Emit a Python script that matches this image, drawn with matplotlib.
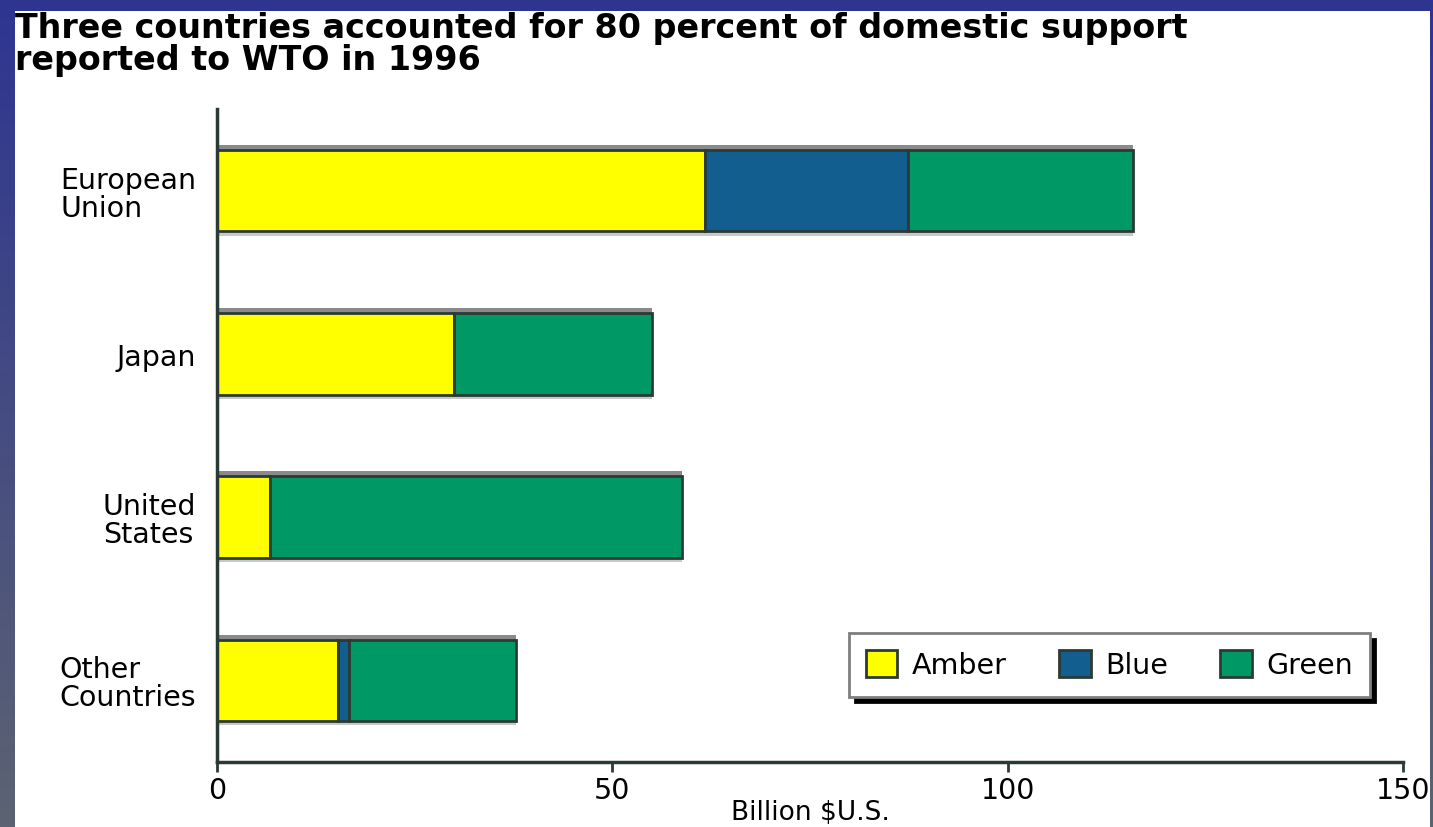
import numpy as np
import matplotlib
matplotlib.use("Agg")
import matplotlib.pyplot as plt
from matplotlib.patches import Rectangle, Patch

# Domestic support reported to WTO, 1996 (billion $U.S.)
regions = ["European\nUnion", "Japan", "United\nStates", "Other\nCountries"]
amber = [61.7, 30.0, 6.7, 15.3]
blue = [25.7, 0.0, 0.0, 1.4]
green = [28.4, 25.0, 52.1, 21.1]
series_names = ["Amber", "Blue", "Green"]
x_ticks = [0, 50, 100, 150]

colors = ["#ffff00", "#115e8f", "#009864"]
edge = "#2b3a35"
fs = 20.5

W, H = 1433, 828
fig = plt.figure(figsize=(W / 100, H / 100), dpi=100)

# slide background: blue frame fading to grey on the left side
bg = fig.add_axes([0, 0, 1, 1], zorder=-10)
bg.set_axis_off()
top_c = np.array([0x2e, 0x35, 0x91]) / 255
bot_c = np.array([0x5c, 0x63, 0x72]) / 255
t = np.linspace(0, 1, 256)[:, None]
grad = top_c[None, :] * (1 - t) + bot_c[None, :] * t
bg.imshow(grad[:, None, :], aspect="auto", extent=[0, 1, 0, 1])
bg.add_patch(Rectangle((15 / W, 0), (1430 - 15) / W, (H - 12) / H,
                       facecolor="white", edgecolor="none"))
bg.set_xlim(0, 1)
bg.set_ylim(0, 1)

fig.text(15 / W, 1 - 12 / H,
         "Three countries accounted for 80 percent of domestic support\nreported to WTO in 1996",
         ha="left", va="top", fontsize=24, fontweight="bold", color="black",
         family="DejaVu Sans", linespacing=0.97)

left, right, top, bottom = 217, 1403, 110, 763
ax = fig.add_axes([left / W, 1 - bottom / H, (right - left) / W, (bottom - top) / H])
ax.set_facecolor("none")

y = np.arange(len(regions))
h = 0.5
amber_a = np.array(amber)
blue_a = np.array(blue)
green_a = np.array(green)
totals = amber_a + blue_a + green_a

# soft shadow behind each bar
ax.barh(y, totals, height=h + 0.05, left=0, color="#c8c8c8", edgecolor="none", zorder=1)
ax.barh(y - 0.02, totals, height=h + 0.02, left=0, color="#8a8a8a", edgecolor="none", zorder=1)

ax.barh(y, amber_a, height=h, color=colors[0], edgecolor=edge, linewidth=2, zorder=2)
ax.barh(y, blue_a, height=h, left=amber_a, color=colors[1], edgecolor=edge, linewidth=2, zorder=2)
ax.barh(y, green_a, height=h, left=amber_a + blue_a, color=colors[2], edgecolor=edge, linewidth=2, zorder=2)

ax.set_xlim(0, 150)
ax.set_ylim(3.5, -0.5)
ax.set_yticks(y)
ax.set_yticklabels(regions, fontsize=fs, family="DejaVu Sans", ha="right",
                   multialignment="left", linespacing=1.0)
ax.tick_params(axis="y", length=0, pad=15)
ax.set_xticks(x_ticks)
ax.set_xticklabels([str(v) for v in x_ticks], fontsize=fs, family="DejaVu Sans")
ax.tick_params(axis="x", length=7, width=2, color=edge, pad=3, direction="out")
ax.set_xlabel("Billion $U.S.", fontsize=19, family="DejaVu Sans", va="bottom")
ax.xaxis.set_label_coords(0.5, -(826 - bottom) / (bottom - top))

for s in ["top", "right"]:
    ax.spines[s].set_visible(False)
for s in ["left", "bottom"]:
    ax.spines[s].set_color(edge)
    ax.spines[s].set_linewidth(2.5)

handles = [Patch(facecolor=c, edgecolor=edge, linewidth=2) for c in colors]
leg = ax.legend(handles, series_names, loc="upper left",
                bbox_to_anchor=((849 - left) / (right - left), 1 - (634 - top) / (bottom - top)),
                borderaxespad=0, ncol=3, frameon=True, fancybox=False,
                shadow={"color": "black", "alpha": 1, "ox": 4, "oy": -4},
                handlelength=1.1, handleheight=1.1, columnspacing=1.85,
                handletextpad=0.5, borderpad=0.6, prop={"family": "DejaVu Sans", "size": fs})
leg.get_frame().set_edgecolor("#7f7f7f")
leg.get_frame().set_linewidth(2)
leg.set_zorder(5)

fig.savefig("out.png", dpi=100)
